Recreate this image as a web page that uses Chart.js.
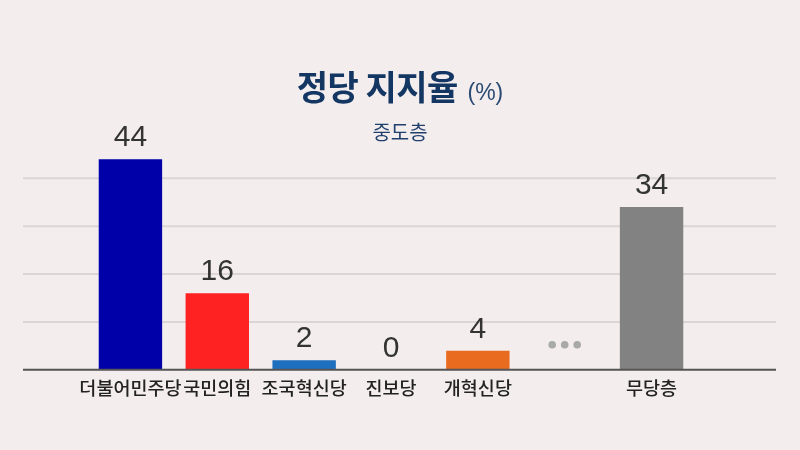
<!DOCTYPE html>
<html>
<head>
<meta charset="utf-8">
<script src="https://cdn.jsdelivr.net/npm/chart.js@4"></script>
<style>
  html, body { margin: 0; padding: 0; background: #f3eded; }
  #wrap { position: relative; width: 800px; height: 450px; }
  #title { position: absolute; left: 0; width: 800px; top: 64px; text-align: center;
           font-family: "Noto Sans CJK KR", sans-serif; color: #133663; line-height: 44px; }
  #title .main { font-size: 34px; font-weight: 700; letter-spacing: -0.5px; }
  #title .unit { font-size: 23px; font-weight: 400; color: #2b4a73; margin-left: 6px; font-family: "Liberation Sans", "Noto Sans CJK KR", sans-serif; }
  #sub { position: absolute; left: 0; width: 800px; top: 117px; text-align: center;
         font-family: "Noto Sans CJK KR", sans-serif; font-size: 20px; color: #1f3f6d; line-height: 30px; }
  canvas { position: absolute; left: 0; top: 0; }
</style>
</head>
<body>
<div id="wrap">
  <canvas id="partyChart" width="800" height="450"></canvas>
  <div id="title"><span class="main">정당 지지율</span> <span class="unit">(%)</span></div>
  <div id="sub">중도층</div>
</div>
<script>
// chart data
const parties = ['더불어민주당', '국민의힘', '조국혁신당', '진보당', '개혁신당', '', '무당층'];
const support = [44, 16, 2, 0, 4, null, 34];
const barColors = ['#0000a8', '#ff2222', '#1f6fbf', '#888888', '#e96b1f', '#000000', '#828282'];
const gridValues = [10, 20, 30, 40];
const gapIndex = 5; // the "..." slot

// grid lines + baseline, wider than the bars area
const gridPlugin = {
  id: 'gridLines',
  beforeDatasetsDraw(chart) {
    const ctx = chart.ctx;
    const y = chart.scales.y;
    ctx.save();
    ctx.lineWidth = 2;
    ctx.strokeStyle = '#dcd5d5';
    gridValues.forEach(v => {
      const py = y.getPixelForValue(v);
      ctx.beginPath();
      ctx.moveTo(23, py);
      ctx.lineTo(776, py);
      ctx.stroke();
    });
    ctx.restore();
  },
  afterDatasetsDraw(chart) {
    const ctx = chart.ctx;
    const y = chart.scales.y;
    const py = y.getPixelForValue(0);
    ctx.save();
    ctx.lineWidth = 2;
    ctx.strokeStyle = '#555555';
    ctx.beginPath();
    ctx.moveTo(23, py);
    ctx.lineTo(776, py);
    ctx.stroke();
    ctx.restore();
  }
};

// value labels above the bars, and the dots in the gap
const labelPlugin = {
  id: 'valueLabels',
  afterDatasetsDraw(chart) {
    const ctx = chart.ctx;
    const meta = chart.getDatasetMeta(0);
    ctx.save();
    ctx.textAlign = 'center';
    ctx.textBaseline = 'bottom';
    ctx.fillStyle = '#333333';
    ctx.font = '30px "Liberation Sans", sans-serif';
    meta.data.forEach((bar, i) => {
      const v = support[i];
      if (v === null) return;
      ctx.fillText(String(v), bar.x, bar.y - 6);
    });
    // dots
    const gx = chart.scales.x.getPixelForValue(gapIndex);
    const gy = chart.scales.y.getPixelForValue(0) - 25;
    ctx.fillStyle = '#a9a9a9';
    [-12.5, 0, 12.5].forEach(dx => {
      ctx.beginPath();
      ctx.arc(gx + dx, gy, 3.8, 0, Math.PI * 2);
      ctx.fill();
    });
    ctx.restore();
  }
};

const ctx = document.getElementById('partyChart').getContext('2d');
new Chart(ctx, {
  type: 'bar',
  data: {
    labels: parties,
    datasets: [{
      data: support,
      backgroundColor: barColors,
      borderWidth: 0,
      barPercentage: 0.73,
      categoryPercentage: 1.0
    }]
  },
  options: {
    responsive: false,
    animation: false,
    layout: { padding: { left: 87, right: 105, top: 140, bottom: 44 } },
    plugins: {
      legend: { display: false },
      tooltip: { enabled: false }
    },
    scales: {
      x: {
        grid: { display: false, drawTicks: false },
        border: { display: false },
        ticks: {
          color: '#222222',
          padding: 7,
          maxRotation: 0,
          autoSkip: false,
          font: { family: '"Noto Sans CJK KR", sans-serif', size: 18.5, weight: '500' }
        }
      },
      y: {
        display: false,
        min: 0,
        max: 48
      }
    }
  },
  plugins: [gridPlugin, labelPlugin]
});
</script>
</body>
</html>
